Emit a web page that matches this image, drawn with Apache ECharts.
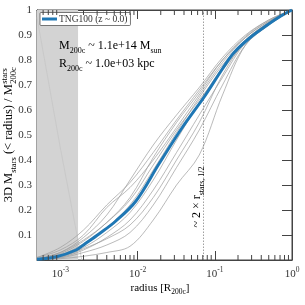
<!DOCTYPE html>
<html><head><meta charset="utf-8">
<script src="https://cdn.jsdelivr.net/npm/echarts@6/dist/echarts.min.js"></script>
<style>html,body{margin:0;padding:0;background:#fff}#c{width:305px;height:305px}</style>
</head><body><div id="c"></div>
<script>
// ---- data ----
const radiusGrid = [5e-4, 1e-3, 2e-3, 4e-3, 8e-3, 0.016, 0.032, 0.063, 0.126, 0.25, 0.5, 1];
const haloU1 = [0.010, 0.050, 0.120, 0.220, 0.310, 0.430, 0.560, 0.680, 0.800, 0.895, 0.960, 1];
const haloU2 = [0.010, 0.040, 0.100, 0.210, 0.290, 0.400, 0.530, 0.660, 0.790, 0.890, 0.955, 1];
const haloU3 = [0.005, 0.030, 0.090, 0.180, 0.320, 0.460, 0.580, 0.690, 0.810, 0.900, 0.960, 1];
const haloU4 = [0.005, 0.030, 0.080, 0.150, 0.250, 0.410, 0.550, 0.670, 0.800, 0.890, 0.955, 1];
const haloM1 = [0.003, 0.020, 0.065, 0.130, 0.220, 0.360, 0.510, 0.650, 0.780, 0.880, 0.950, 1];
const haloM2 = [0.002, 0.015, 0.050, 0.110, 0.190, 0.320, 0.480, 0.630, 0.770, 0.880, 0.950, 1];
const haloM3 = [0.004, 0.025, 0.075, 0.150, 0.240, 0.380, 0.520, 0.640, 0.760, 0.870, 0.945, 1];
const haloL1 = [0.002, 0.010, 0.040, 0.090, 0.160, 0.280, 0.430, 0.580, 0.730, 0.870, 0.945, 1];
const haloL2 = [0.001, 0.008, 0.030, 0.060, 0.110, 0.220, 0.370, 0.520, 0.700, 0.860, 0.940, 1];
const haloL3 = [0.000, 0.005, 0.015, 0.030, 0.055, 0.160, 0.300, 0.420, 0.660, 0.860, 0.940, 1];
const haloL4 = [0.001, 0.012, 0.045, 0.085, 0.140, 0.250, 0.400, 0.550, 0.740, 0.875, 0.950, 1];
const faintRadius = [5e-4, 1e-3, 1.9e-3];
const faintValues = [0.97, 0.45, 0.0];
const medianRadius = [5e-4, 8.9e-4, 1.6e-3, 2.1e-3, 3.2e-3, 5.2e-3, 9.5e-3, 0.019, 0.038, 0.076, 0.126, 0.178, 0.288, 0.479, 0.708, 1.0];
const medianValues = [0.003, 0.013, 0.040, 0.065, 0.105, 0.155, 0.235, 0.385, 0.530, 0.660, 0.765, 0.830, 0.890, 0.940, 0.975, 1.0];
const minorTickValues = [6e-4, 7e-4, 8e-4, 9e-4, 2e-3, 3e-3, 4e-3, 5e-3, 6e-3, 7e-3, 8e-3, 9e-3,
  0.02, 0.03, 0.04, 0.05, 0.06, 0.07, 0.08, 0.09, 0.2, 0.3, 0.4, 0.5, 0.6, 0.7, 0.8, 0.9];
const shadeRange = [5e-4, 1.7e-3];
const halfMassRadius = 0.0745;
const seriesName = 'TNG100 (z ~ 0.0)';
const xMin = 5e-4, xMax = 1;

const haloes = [haloU1, haloU2, haloU3, haloU4, haloM1, haloM2, haloM3, haloL1, haloL2, haloL3, haloL4];

const FONT = '"Liberation Serif", "DejaVu Serif", serif';
const TXT = '#333';
const AX = '#444';

const series = [];
series.push({
  type: 'line', data: [], z: 1, silent: true,
  markArea: { silent: true, itemStyle: { color: '#d3d3d3' },
    data: [[{ xAxis: shadeRange[0] }, { xAxis: shadeRange[1] }]] },
  markLine: { silent: true, symbol: ['none', 'none'], label: { show: false },
    lineStyle: { type: [1.5, 1.5], color: '#888', width: 0.8 },
    data: [{ xAxis: halfMassRadius }] }
});
series.push({
  type: 'line', z: 2, silent: true, symbol: 'none',
  lineStyle: { color: '#c4c4c4', width: 0.7 },
  data: faintRadius.map((r, i) => [r, faintValues[i]])
});
haloes.forEach(h => series.push({
  type: 'line', z: 3, silent: true, symbol: 'none', smooth: 0.35,
  lineStyle: { color: '#9c9c9c', width: 0.7 },
  data: radiusGrid.map((r, i) => [r, h[i]])
}));
series.push({
  name: seriesName, type: 'line', z: 5, symbol: 'none', smooth: 0.35,
  lineStyle: { color: '#1f77b4', width: 3 }, itemStyle: { color: '#1f77b4' },
  data: medianRadius.map((r, i) => [r, medianValues[i]])
});
// minor ticks on log axis (bottom + top), attached to the top x axis
series.push({
  type: 'custom', z: 6, silent: true, clip: false, xAxisIndex: 1, yAxisIndex: 0,
  data: minorTickValues.map(v => [v, 0]),
  renderItem: function (params, api) {
    const b = api.coord([api.value(0), 0]);
    const t = api.coord([api.value(0), 1]);
    const st = { stroke: AX, lineWidth: 1 };
    return { type: 'group', children: [
      { type: 'line', shape: { x1: b[0], y1: b[1], x2: b[0], y2: b[1] - 5 }, style: st },
      { type: 'line', shape: { x1: t[0], y1: t[1], x2: t[0], y2: t[1] + 5 }, style: st }
    ] };
  }
});

const chart = echarts.init(document.getElementById('c'), null, { renderer: 'canvas' });

const cv = document.createElement('canvas').getContext('2d');
function tw(s, size) { cv.font = size + 'px ' + FONT; return cv.measureText(s).width; }
const YM = 12.5, YS = 8.5;
const yMainW = tw('3D M', YM) + tw('stars', YS) + tw(' (< radius) / M', YM);
const ySufW = Math.max(tw('stars', YS), tw('200c', YS));
const yTot = yMainW + ySufW;
const yCenter = 135, yLabelX = 9;
const yStart = yCenter + yTot / 2;

const richBase = {
  m: { fontFamily: FONT, fontSize: 12, lineHeight: 18, color: TXT },
  s: { fontFamily: FONT, fontSize: 8, lineHeight: 8, verticalAlign: 'bottom', color: TXT }
};
const richY = {
  m: { fontFamily: FONT, fontSize: YM, lineHeight: 18, color: TXT },
  s: { fontFamily: FONT, fontSize: YS, lineHeight: 8, verticalAlign: 'bottom', color: TXT }
};

chart.setOption({
  animation: false,
  backgroundColor: '#fff',
  grid: { left: 37, right: 13, top: 10, bottom: 45, show: true, borderColor: AX, borderWidth: 1, backgroundColor: 'transparent' },
  legend: {
    data: [seriesName], left: 40, top: 12.5, orient: 'vertical',
    backgroundColor: '#fff', borderColor: '#555', borderWidth: 0.8, borderRadius: 1,
    padding: [1.5, 3, 1.5, 2], itemWidth: 15, itemHeight: 3, itemGap: 0, icon: 'rect',
    textStyle: { fontFamily: FONT, fontSize: 9.5, color: TXT, padding: [0, 0, 0, -3] }
  },
  xAxis: [{
    type: 'log', logBase: 10, min: xMin, max: xMax, position: 'bottom',
    axisLine: { show: true, onZero: false, lineStyle: { color: AX, width: 1 } },
    axisTick: { show: true, inside: true, length: 9, lineStyle: { color: AX } },
    splitLine: { show: false },
    axisLabel: {
      showMinLabel: false, margin: 6, color: TXT,
      formatter: function (v) {
        const e = Math.round(Math.log10(v));
        return '{b|10}{u|' + e + '}';
      },
      rich: {
        b: { fontFamily: FONT, fontSize: 11, lineHeight: 16, color: TXT },
        u: { fontFamily: FONT, fontSize: 7.5, lineHeight: 8, verticalAlign: 'top', color: TXT }
      }
    }
  }, {
    type: 'log', logBase: 10, min: xMin, max: xMax, position: 'top',
    axisLine: { show: true, onZero: false, lineStyle: { color: AX, width: 1 } },
    axisTick: { show: true, inside: true, length: 9, lineStyle: { color: AX } },
    axisLabel: { show: false }, splitLine: { show: false }
  }],
  yAxis: [{
    type: 'value', min: 0, max: 1, interval: 0.1, position: 'left',
    axisLine: { show: true, onZero: false, lineStyle: { color: AX, width: 1 } },
    axisTick: { show: true, inside: true, length: 10, lineStyle: { color: AX } },
    splitLine: { show: false },
    axisLabel: {
      margin: 5, fontFamily: FONT, fontSize: 11, color: TXT,
      formatter: function (v) { if (v === 0) return ''; if (v === 1) return '1'; return v.toFixed(1); }
    }
  }, {
    type: 'value', min: 0, max: 1, interval: 0.1, position: 'right',
    axisLine: { show: true, onZero: false, lineStyle: { color: AX, width: 1 } },
    axisTick: { show: true, inside: true, length: 10, lineStyle: { color: AX } },
    axisLabel: { show: false }, splitLine: { show: false }
  }],
  series: series,
  graphic: [
    { type: 'text', x: 59, y: 46, z: 100, silent: true,
      style: { text: '{m|M}{s|200c}{m| ~ 1.1e+14 M}{s|sun}', rich: richBase, verticalAlign: 'middle', align: 'left' } },
    { type: 'text', x: 59, y: 63.5, z: 100, silent: true,
      style: { text: '{m|R}{s|200c}{m| ~ 1.0e+03 kpc}', rich: richBase, verticalAlign: 'middle', align: 'left' } },
    { type: 'text', x: 197, y: 197, rotation: Math.PI / 2, z: 100, silent: true,
      style: { text: '{m|~ 2 × r}{s|stars, 1/2}', rich: richBase, verticalAlign: 'middle', align: 'center' } },
    { type: 'text', x: 160, y: 288, z: 100, silent: true,
      style: { text: '{m|radius [R}{s|200c}{m|]}', rich: {
        m: { fontFamily: FONT, fontSize: 11, lineHeight: 16, color: TXT },
        s: { fontFamily: FONT, fontSize: 7.5, lineHeight: 8, verticalAlign: 'bottom', color: TXT } },
        verticalAlign: 'middle', align: 'center' } },
    { type: 'text', x: yLabelX, y: yStart, rotation: Math.PI / 2, z: 100, silent: true,
      style: { text: '{m|3D M}{s|stars}{m| (< radius) / M}', rich: richY, verticalAlign: 'middle', align: 'left' } },
    { type: 'text', x: yLabelX, y: yStart - yMainW - 0.5, rotation: Math.PI / 2, z: 100, silent: true,
      style: { text: '{q|stars}\n{q|200c}', rich: { q: { fontFamily: FONT, fontSize: YS, lineHeight: 9, color: TXT } },
        verticalAlign: 'middle', align: 'left' } }
  ]
});
</script>
</body></html>
